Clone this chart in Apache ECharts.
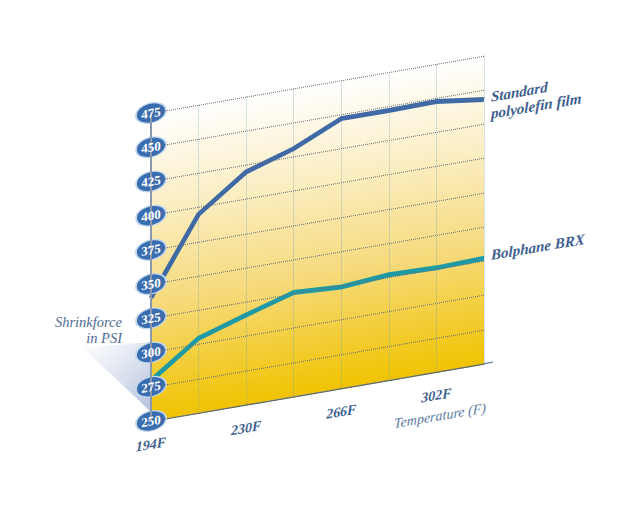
<!DOCTYPE html>
<html>
<head>
<meta charset="utf-8">
<script src="https://cdn.jsdelivr.net/npm/echarts@6/dist/echarts.min.js"></script>
<style>
html,body{margin:0;padding:0;background:#fff;width:640px;height:510px;overflow:hidden}
#under,#main{position:absolute;left:0;top:0;width:640px;height:510px}
#under{z-index:0}
#main{z-index:1;transform-origin:151px 0;transform:matrix(1,-0.172,0,1,0,0)}
</style>
</head>
<body>
<div id="under"></div>
<div id="main"></div>
<script>
var temperatures = ['194F','212F','230F','248F','266F','284F','302F','320F'];
var yTicks = [250,275,300,325,350,375,400,425,450,475];
var standardFilm = [340,395,420,431,447,447,447.5,443];
var bolphane = [279.5,304.5,315.5,326,324,327,326,327];
var FONT = '"Liberation Serif",serif';
var BLUE = '#3f6aa5', TEAL = '#1f9aa5', TEXT = '#3f5f8f';

var under = echarts.init(document.getElementById('under'), null, {renderer:'svg'});
under.setOption({
  animation:false,
  graphic:[
    {type:'polygon', shape:{points:[[151,342],[151,412],[83,348]]},
     style:{fill:new echarts.graphic.LinearGradient(1,1,0,0,[
       {offset:0,color:'#b4c1dc'},{offset:0.55,color:'#e2e7f2'},{offset:1,color:'#ffffff'}])}},
    {type:'text', x:122, y:322, style:{text:'Shrinkforce', font:'italic 14.5px '+FONT, fill:'#4f6a90', align:'right', verticalAlign:'middle'}},
    {type:'text', x:122, y:338, style:{text:'in PSI', font:'italic 14.5px '+FONT, fill:'#4f6a90', align:'right', verticalAlign:'middle'}}
  ]
});

var chart = echarts.init(document.getElementById('main'), null, {renderer:'svg'});
chart.setOption({
  animation:false,
  backgroundColor:'transparent',
  grid:{left:151,right:156,top:113,bottom:89,show:true,borderWidth:0,
    backgroundColor:new echarts.graphic.LinearGradient(0,0,0,1,[
      {offset:0,color:'#ffffff'},{offset:0.3,color:'#fbeec4'},{offset:0.62,color:'#f6da7c'},{offset:1,color:'#f0c300'}])},
  xAxis:{type:'category',data:temperatures,boundaryGap:false,
    axisLine:{show:true,onZero:false,lineStyle:{color:'#5a6650',width:1.2}},
    axisTick:{show:false},
    axisLabel:{interval:function(i){return i%2===0;},margin:16,color:TEXT,
      fontFamily:FONT,fontStyle:'italic',fontWeight:'bold',fontSize:14},
    splitLine:{show:true,interval:0,lineStyle:{color:'rgba(110,165,185,0.6)',type:'dotted',width:1}}},
  yAxis:{type:'value',min:250,max:475,interval:25,z:10,
    axisLine:{show:true,lineStyle:{color:'#8a98ae',width:2}},
    axisTick:{show:false},
    axisLabel:{margin:0,align:'center',color:'#ffffff',
      fontFamily:FONT,fontWeight:'bold',fontSize:13},
    splitLine:{show:true,lineStyle:{color:'#6a7078',type:'dotted',width:1}}},
  series:[
    {name:'Standard polyolefin film',type:'line',data:standardFilm,symbol:'none',z:3,
     lineStyle:{color:BLUE,width:5,join:'miter'},
     endLabel:{show:true,formatter:'Standard\npolyolefin film',distance:7,offset:[0,7],align:'left',
       color:TEXT,fontFamily:FONT,fontStyle:'italic',fontWeight:'bold',fontSize:15,lineHeight:17}},
    {name:'Bolphane BRX',type:'line',data:bolphane,symbol:'none',z:3,
     lineStyle:{color:TEAL,width:5,join:'miter'},
     endLabel:{show:true,formatter:'Bolphane BRX',distance:7,offset:[0,-2],align:'left',
       color:TEXT,fontFamily:FONT,fontStyle:'italic',fontWeight:'bold',fontSize:15}},
    {name:'badges',type:'scatter',clip:false,silent:true,z:5,symbol:'circle',symbolSize:[30,20],
     data:yTicks.map(function(t){return [0,t];}),
     itemStyle:{color:'#3a6cb0',borderColor:'#c2d8ee',borderWidth:1.5,opacity:1}}
  ],
  graphic:[
    {type:'text',x:440,y:465,style:{text:'Temperature (F)',font:'italic 14px '+FONT,fill:'#5a7aa0',align:'center',verticalAlign:'middle'}},
    {type:'line',shape:{x1:484,y1:421,x2:493,y2:421},style:{stroke:'#5f86a8',lineWidth:1.2}}
  ]
});
</script>
</body>
</html>
